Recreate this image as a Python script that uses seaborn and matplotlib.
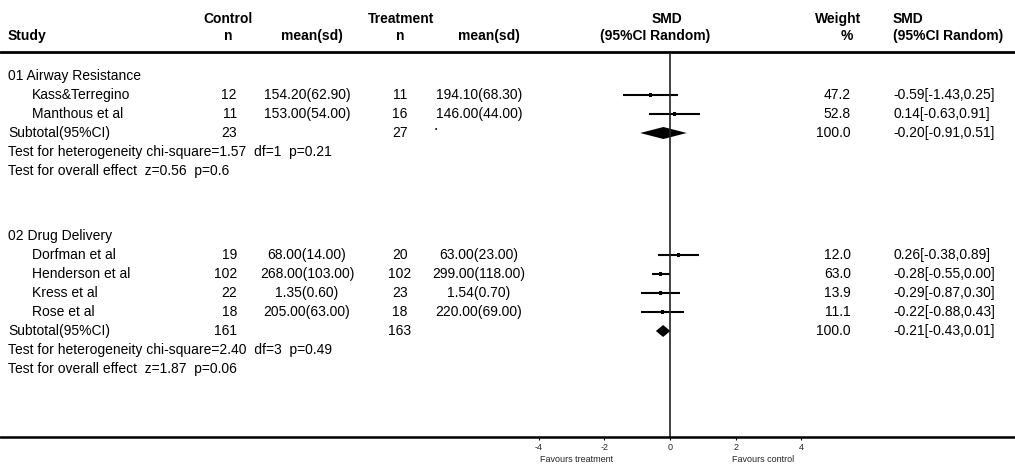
import numpy as np
import pandas as pd
import matplotlib
matplotlib.use("Agg")
import matplotlib.pyplot as plt
import seaborn as sns

# ---------------------------
# Data
# ---------------------------
group_names = ["01 Airway Resistance", "02 Drug Delivery"]
studies = ["Kass&Terregino", "Manthous et al",
           "Dorfman et al", "Henderson et al", "Kress et al", "Rose et al"]
study_group = [0, 0, 1, 1, 1, 1]
ctrl_n = [12, 11, 19, 102, 22, 18]
ctrl_mean_sd = ["154.20(62.90)", "153.00(54.00)", "68.00(14.00)",
                "268.00(103.00)", "1.35(0.60)", "205.00(63.00)"]
trt_n = [11, 16, 20, 102, 23, 18]
trt_mean_sd = ["194.10(68.30)", "146.00(44.00)", "63.00(23.00)",
               "299.00(118.00)", "1.54(0.70)", "220.00(69.00)"]
smd = [-0.59, 0.14, 0.26, -0.28, -0.29, -0.22]
smd_lo = [-1.43, -0.63, -0.38, -0.55, -0.87, -0.88]
smd_hi = [0.25, 0.91, 0.89, 0.00, 0.30, 0.43]
weight = [47.2, 52.8, 12.0, 63.0, 13.9, 11.1]

sub_ctrl_n = [23, 161]
sub_trt_n = [27, 163]
sub_smd = [-0.20, -0.21]
sub_lo = [-0.91, -0.43]
sub_hi = [0.51, 0.01]
sub_weight = [100.0, 100.0]
heterogeneity = ["chi-square=1.57  df=1  p=0.21", "chi-square=2.40  df=3  p=0.49"]
overall = ["z=0.56  p=0.6", "z=1.87  p=0.06"]

x_ticks = [-4, -2, 0, 2, 4]
favours = ["Favours treatment", "Favours control"]

# ---------------------------
# Layout (pixels, figure is 1015 x 472)
# ---------------------------
W, H = 1015, 472
zero_px, unit_px = 670, 32.8
row_step = 19
group_top = [76, 236]
axis_y = 437

sns.set_theme(style="white")
plt.rcParams["font.family"] = ["Liberation Sans", "DejaVu Sans"]
FS = 10

fig = plt.figure(figsize=(W / 100, H / 100), dpi=100)
ax = fig.add_axes([0, 0, 1, 1])
ax.set_xlim(-zero_px / unit_px, (W - zero_px) / unit_px)
ax.set_ylim(H, 0)
ax.axis("off")
x0, x1 = ax.get_xlim()

# blended transform: x in figure pixels, y in data (pixels from top)
tr = matplotlib.transforms.blended_transform_factory(fig.transFigure, ax.transData)


def txt(x, y, s, ha="left", bold=False, size=FS):
    ax.text(x / W, y, s, transform=tr, ha=ha, va="center", fontsize=size,
            fontweight="bold" if bold else "normal", color="black")


# header
txt(228, 19, "Control", "center", True)
txt(401, 19, "Treatment", "center", True)
txt(667, 19, "SMD", "center", True)
txt(838, 19, "Weight", "center", True)
txt(893, 19, "SMD", "left", True)
txt(8, 36, "Study", "left", True)
txt(228, 36, "n", "center", True)
txt(312, 36, "mean(sd)", "center", True)
txt(400, 36, "n", "center", True)
txt(489, 36, "mean(sd)", "center", True)
txt(655, 36, "(95%CI Random)", "center", True)
txt(847, 36, "%", "center", True)
txt(893, 36, "(95%CI Random)", "left", True)
ax.plot([x0, x1], [52, 52], color="black", lw=2)

# rows
rows = []
for g, name in enumerate(group_names):
    y0 = group_top[g]
    txt(8, y0, name)
    idx = [i for i, sg in enumerate(study_group) if sg == g]
    for k, i in enumerate(idx):
        y = y0 + (k + 1) * row_step
        rows.append(dict(y=y, smd=smd[i], lo=smd_lo[i], hi=smd_hi[i], w=weight[i]))
        txt(32, y, studies[i])
        txt(237, y, str(ctrl_n[i]), "right")
        txt(307, y, ctrl_mean_sd[i], "center")
        txt(400, y, str(trt_n[i]), "center")
        txt(479, y, trt_mean_sd[i], "center")
        txt(851, y, f"{weight[i]:.1f}", "right")
        txt(893, y, f"{smd[i]:.2f}[{smd_lo[i]:.2f},{smd_hi[i]:.2f}]")
    ys = y0 + (len(idx) + 1) * row_step
    txt(8, ys, "Subtotal(95%CI)")
    txt(237, ys, str(sub_ctrl_n[g]), "right")
    txt(400, ys, str(sub_trt_n[g]), "center")
    if g == 0:
        txt(436, ys - 4, "\u2022", "center", size=5)
    txt(851, ys, f"{sub_weight[g]:.1f}", "right")
    txt(893, ys, f"{sub_smd[g]:.2f}[{sub_lo[g]:.2f},{sub_hi[g]:.2f}]")
    # pooled diamond
    dh = 6
    ax.fill([sub_lo[g], sub_smd[g], sub_hi[g], sub_smd[g]],
            [ys, ys - dh, ys, ys + dh], color="black", lw=0)
    txt(8, ys + row_step, "Test for heterogeneity " + heterogeneity[g])
    txt(8, ys + 2 * row_step, "Test for overall effect  " + overall[g])

df = pd.DataFrame(rows)
ax.hlines(df["y"], df["lo"], df["hi"], color="black", lw=1.5)
sns.scatterplot(data=df, x="smd", y="y", marker="s", s=5, color="black",
                edgecolor="none", ax=ax, legend=False)

# zero line and axis
ax.vlines(0, 54, axis_y, color="#222222", lw=1.2)
ax.plot([x0, x1], [axis_y, axis_y], color="black", lw=1.8)
for t in x_ticks:
    ax.vlines(t, axis_y, axis_y + 3, color="black", lw=0.8)
    ax.text(t, axis_y + 10, str(t), ha="center", va="center", fontsize=6.5)
ax.text(-2.85, axis_y + 22, favours[0], ha="center", va="center", fontsize=6.5)
ax.text(2.85, axis_y + 22, favours[1], ha="center", va="center", fontsize=6.5)

fig.savefig("out.png", dpi=100, facecolor="white")
